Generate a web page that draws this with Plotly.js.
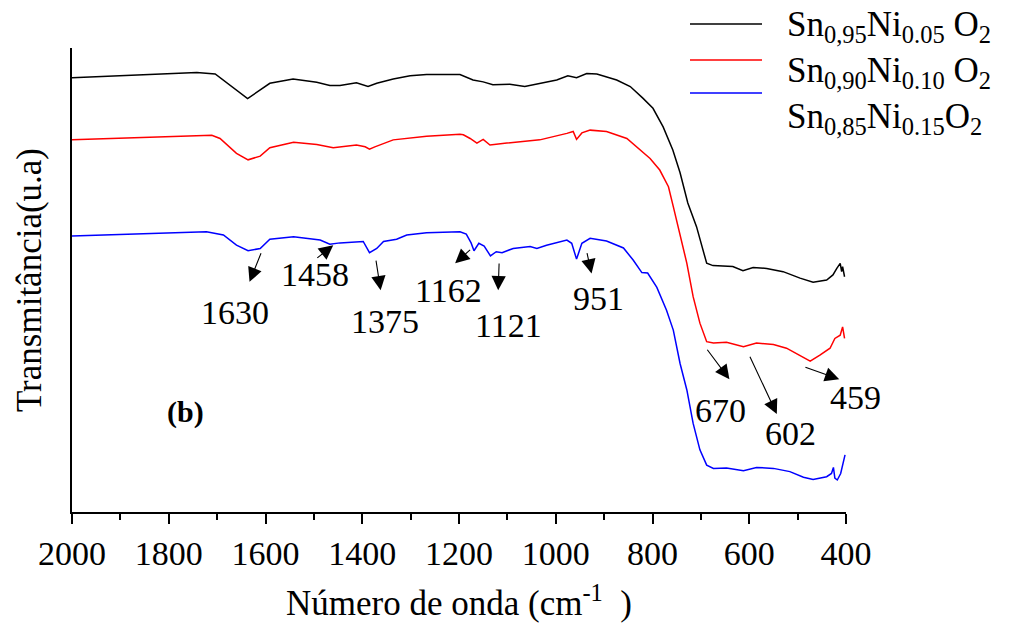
<!DOCTYPE html>
<html>
<head>
<meta charset="utf-8">
<script src="https://cdn.plot.ly/plotly-3.0.1.min.js"></script>
<style>html,body{margin:0;padding:0;background:#fff;}#chart{width:1013px;height:627px;}</style>
</head>
<body>
<div id="chart"></div>
<script>
// Wavenumber (cm-1) and transmittance (arbitrary units, offset curves)
const wnBlack = [2000,1742,1704,1637,1591,1543,1494,1467,1446,1412,1388,1370,1336,1301,1267,1198,1171,1150,1130,1095,1064,1033,998,975,957,936,915,874,846,820,799,778,758,743,727,709,696,688,675,634,613,592,564,530,495,468,440,427,419,412,409,407,403];
const tBlack  = [93.6,94.7,94.4,89.1,92.4,93.3,92.6,91.9,91.9,92.5,91.7,92.4,93.3,94.0,94.3,94.3,93.1,92.7,92.1,92.2,91.7,92.4,93.1,94.0,93.6,94.5,94.4,93.1,91.7,89.2,87.0,83.0,78.0,73.1,66.6,61.5,56.5,53.6,53.1,52.9,52.0,52.7,52.5,51.8,50.4,49.5,50.0,51.1,52.5,53.6,51.8,52.9,50.7];

const wnRed = [2000,1750,1711,1694,1660,1636,1611,1591,1542,1494,1460,1412,1394,1385,1374,1336,1267,1198,1191,1177,1163,1150,1136,1101,1033,977,964,957,946,929,895,853,826,805,785,767,757,743,729,716,702,688,674,647,612,585,550,523,495,474,454,433,423,412,407,403];
const tRed  = [80.2,81.0,81.2,80.5,77.3,75.9,76.7,78.5,79.7,79.2,78.5,79.1,78.7,78.2,78.7,80.2,81.0,81.4,81.3,80.5,79.5,80.3,79.1,79.5,80.2,81.6,82.0,80.3,81.7,82.3,82.0,80.5,78.0,76.2,73.7,70.1,65.8,59.5,53.6,46.4,40.7,36.7,36.4,36.6,35.6,36.4,36.1,35.3,33.8,32.5,33.8,35.3,37.4,38.1,39.9,37.4];

const wnBlue = [2000,1749,1722,1687,1660,1636,1611,1591,1542,1487,1467,1446,1398,1385,1370,1356,1329,1308,1267,1198,1185,1175,1169,1159,1148,1135,1123,1111,1088,1053,1039,1019,977,967,957,946,929,895,860,840,822,810,791,771,757,743,729,716,702,688,674,647,612,585,550,516,488,468,440,430,426,423,418,411,402];
const tBlue  = [59.5,60.2,60.4,59.7,57.5,56.3,56.8,58.8,59.3,58.6,57.7,58.0,58.3,55.9,56.8,58.3,58.8,59.7,60.2,60.4,59.9,58.0,56.3,57.9,57.3,55.2,56.1,55.9,56.8,57.2,56.8,57.5,58.6,57.9,54.5,57.9,59.0,58.4,56.9,54.3,51.6,51.5,48.4,43.5,39.2,32.0,26.3,19.1,13.4,10.1,9.4,9.5,8.9,9.6,9.4,8.7,7.5,7.0,7.6,8.3,9.6,7.3,6.9,8.3,12.3];

const seriesNames = ["Sn<sub>0,95</sub>Ni<sub>0.05</sub> O<sub>2</sub>","Sn<sub>0,90</sub>Ni<sub>0.10</sub> O<sub>2</sub>","Sn<sub>0,85</sub>Ni<sub>0.15</sub>O<sub>2</sub>"];
const seriesColors = ["#000000","#ff0000","#0000ff"];

const xTickVals = [2000,1800,1600,1400,1200,1000,800,600,400];

// Peak labels: text, arrow head (wn, T), arrow tail (wn, T), label position (pixels)
const peakLabels = ["1630","1458","1375","1162","1121","951","670","602","459"];
const headWn = [1633,1460,1362,1208,1119,926,641,543,414];
const headT  = [49.6,57.5,47.8,53.6,47.8,51.4,28.6,21.1,28.6];
const tailWn = [1608,1496,1372,1174,1117,936,689,600,487];
const tailT  = [56.1,54.5,54.5,56.8,53.9,56.1,35.3,33.8,31.3];
const labelPX = [235,315,385,448,508,598,720,790,855];
const labelPY = [312,274,322,290,325,298,410,433,397];

const L = 72, R = 846, T0 = 48, B = 512;
const font = "'Liberation Serif', 'Times New Roman', Times, serif";

const traces = [[wnBlack,tBlack],[wnRed,tRed],[wnBlue,tBlue]].map((d,i)=>({
  x:d[0], y:d[1], type:"scatter", mode:"lines", name:seriesNames[i],
  line:{color:seriesColors[i], width:1.5}, showlegend:false
}));

const annotations = [];
const shapes = [];
for (let i=0;i<peakLabels.length;i++){
  annotations.push({x:headWn[i], y:headT[i], xref:"x", yref:"y", ax:tailWn[i], ay:tailT[i], axref:"x", ayref:"y",
    text:"", showarrow:true, arrowhead:2, arrowsize:2.6, arrowwidth:1.1, arrowcolor:"#000"});
  annotations.push({x:(labelPX[i]-L)/(R-L), y:(B-labelPY[i])/(B-T0), xref:"paper", yref:"paper",
    text:peakLabels[i], showarrow:false, font:{family:font, size:34, color:"#000"}, xanchor:"center", yanchor:"middle"});
}
annotations.push({x:(185-L)/(R-L), y:(B-412)/(B-T0), xref:"paper", yref:"paper", text:"<b>(b)</b>", showarrow:false,
  font:{family:font, size:30, color:"#000"}, xanchor:"center", yanchor:"middle"});

// Manual legend
const legLineY = [24,60,93];
const legTextY = [27,72,118];
for (let i=0;i<3;i++){
  shapes.push({type:"line", xref:"paper", yref:"paper", x0:(690-L)/(R-L), x1:(762-L)/(R-L),
    y0:(B-legLineY[i])/(B-T0), y1:(B-legLineY[i])/(B-T0), line:{color:seriesColors[i], width:1.5}});
  annotations.push({x:(785-L)/(R-L), y:(B-legTextY[i])/(B-T0), xref:"paper", yref:"paper", text:seriesNames[i],
    showarrow:false, xanchor:"left", yanchor:"middle", font:{family:font, size:35, color:"#000"}});
}

const layout = {
  width:1013, height:627,
  margin:{l:L, r:1013-R, t:T0, b:627-B, pad:0},
  paper_bgcolor:"#fff", plot_bgcolor:"#fff",
  font:{family:font, color:"#000"},
  showlegend:false,
  xaxis:{range:[2000,400], tickvals:xTickVals, ticks:"outside", ticklen:10, tickwidth:2, tickcolor:"#000",
    showline:true, linewidth:2, linecolor:"#000", showgrid:false, zeroline:false,
    minor:{dtick:100, ticks:"outside", ticklen:6, tickwidth:2, tickcolor:"#000", showgrid:false},
    tickfont:{family:font, size:34, color:"#000"},
    title:{text:"Número de onda (cm<sup>-1</sup>  )", font:{family:font, size:35, color:"#000"}, standoff:20}},
  yaxis:{range:[0,100], showticklabels:false, ticks:"", showline:true, linewidth:2, linecolor:"#000",
    showgrid:false, zeroline:false,
    title:{text:"Transmitância(u.a)", font:{family:font, size:35, color:"#000"}, standoff:18}},
  annotations:annotations, shapes:shapes
};

Plotly.newPlot("chart", traces, layout, {displayModeBar:false, staticPlot:true});
</script>
</body>
</html>
